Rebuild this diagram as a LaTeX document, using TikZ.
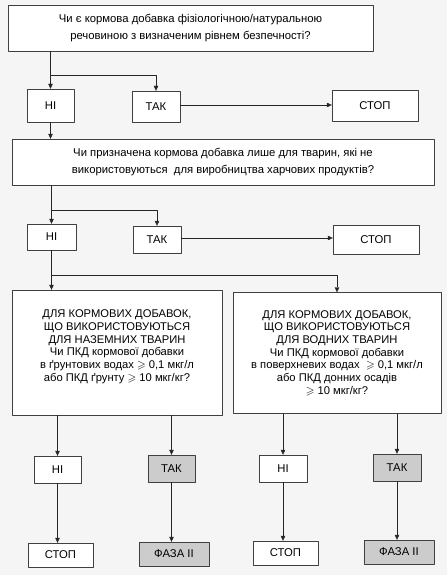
\documentclass[tikz,border=0pt]{standalone}
\usepackage{amssymb}
\usepackage{fontspec}
\setmainfont{Liberation Sans}
\usetikzlibrary{arrows.meta}
\begin{document}
\begin{tikzpicture}[x=1pt,y=-1pt,>={Triangle[length=5pt,width=4.5pt]},
		font=\fontsize{11.3}{16.5}\selectfont, line join=round,
		box/.style 2 args={draw=black!75,fill=white,inner sep=0pt,align=center,
			minimum width=#1,minimum height=#2},
		grey/.style={fill=black!20},
		small/.style={font=\fontsize{11.2}{12.7}\selectfont},
		link/.style={->,black!85}]
		% background and size of the page
		\fill[black!4] (0,0) rectangle (447,575);
		% first question
		\node[box={365pt}{46pt}] (q1) at (190.5,28)
		{Чи є кормова добавка фізіологічною/натуральною\\речовиною з визначеним рівнем безпечності?};
		\node[box={47pt}{33pt}] (ni1) at (50.5,105.5) {НІ};
		\node[box={48pt}{31pt}] (tak1) at (156,106.5) {ТАК};
		\node[box={86pt}{31pt}] (stop1) at (375,105.5) {СТОП};
		\coordinate (br1) at (0,75);
		\draw[link] (q1.south -| ni1.north) -- (ni1.north);
		\draw[link] (ni1.north |- br1) -| (tak1.north);
		\draw[link] (tak1.east |- 0,105) -- (stop1.west |- 0,105);
		% second question
		\node[box={422pt}{46pt}] (q2) at (223,162)
		{Чи призначена кормова добавка лише для тварин, які не\\використовуються\ \ для виробництва харчових продуктів?};
		\node[box={49pt}{26pt}] (ni2) at (51.5,237) {НІ};
		\node[box={48pt}{27pt}] (tak2) at (157,239.5) {ТАК};
		\node[box={86pt}{29pt}] (stop2) at (376,239.5) {СТОП};
		\coordinate (br2) at (0,210);
		\draw[link] (ni1.south) -- (ni1.south |- q2.north);
		\draw[link] (q2.south -| ni2.north) -- (ni2.north);
		\draw[link] (ni2.north |- br2) -| (tak2.north);
		\draw[link] (tak2.east |- 0,238) -- (stop2.west |- 0,238);
		% land and water animals
		\node[box={210pt}{125pt},small,text depth=14pt] (land) at (117,352.5)
		{ДЛЯ КОРМОВИХ ДОБАВОК,\\ЩО ВИКОРИСТОВУЮТЬСЯ\\ДЛЯ НАЗЕМНИХ ТВАРИН\\
			Чи ПКД кормової добавки\\в ґрунтових водах $\geqslant$ 0,1 мкг/л\\або ПКД ґрунту $\geqslant$ 10 мкг/кг?};
		\node[box={208pt}{121pt},small] (water) at (337,353)
		{ДЛЯ КОРМОВИХ ДОБАВОК,\\ЩО ВИКОРИСТОВУЮТЬСЯ\\ДЛЯ ВОДНИХ ТВАРИН\\
			Чи ПКД кормової добавки\\в поверхневих водах\ \ $\geqslant$ 0,1 мкг/л\\або ПКД донних осадів\\$\geqslant$ 10 мкг/кг?};
		\coordinate (br3) at (0,275);
		\draw[link] (ni2.south) -- (ni2.south |- land.north);
		\draw[link] (ni2.south |- br3) -| (water.north);
		% answers
		\node[box={47pt}{27pt}] (ni3) at (57.5,469.5) {НІ};
		\node[box={47pt}{27pt},grey] (tak3) at (171.5,468.5) {ТАК};
		\node[box={48pt}{27pt}] (ni4) at (283,468.5) {НІ};
		\node[box={48pt}{27pt},grey] (tak4) at (397,467.5) {ТАК};
		\node[box={65pt}{24pt}] (stop3) at (60.5,555) {СТОП};
		\node[box={70pt}{24pt},grey] (ph3) at (174,554) {ФАЗА II};
		\node[box={65pt}{24pt}] (stop4) at (285.5,553) {СТОП};
		\node[box={70pt}{24pt},grey] (ph4) at (399,552) {ФАЗА II};
		\foreach \a/\b in {ni3/stop3,tak3/ph3,ni4/stop4,tak4/ph4}
		{
			\draw[link] (\a.south) -- (\a.south |- \b.north);
		}
		\draw[link] (land.south -| ni3.north) -- (ni3.north);
		\draw[link] (land.south -| tak3.north) -- (tak3.north);
		\draw[link] (water.south -| ni4.north) -- (ni4.north);
		\draw[link] (water.south -| tak4.north) -- (tak4.north);
	\end{tikzpicture}
\end{document}
